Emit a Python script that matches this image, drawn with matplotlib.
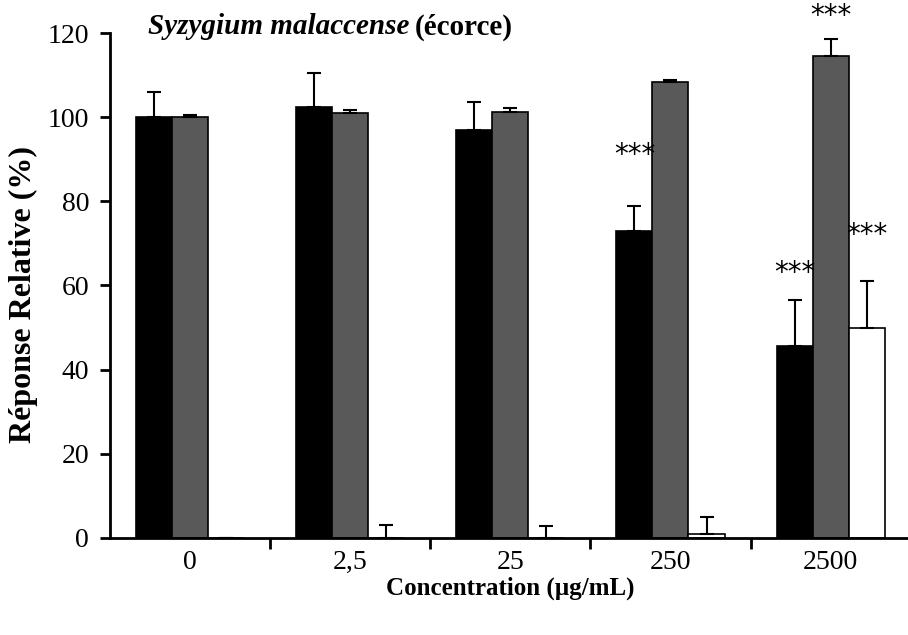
import numpy as np
import matplotlib
matplotlib.use('Agg')
import matplotlib.pyplot as plt
from matplotlib.ticker import FixedLocator, NullFormatter

plt.rcParams['font.family'] = 'Liberation Serif'

# Données
concentrations = ['0', '2,5', '25', '250', '2500']
noir = [100, 102.5, 97, 73, 45.5]
noir_err = [6, 8, 6.5, 6, 11]
gris = [100, 101, 101.3, 108.3, 114.5]
gris_err = [0.5, 0.7, 0.8, 0.5, 4]
blanc = [0, 0, 0, 1, 50]
blanc_err = [0, 3, 2.7, 4, 11]
# étoiles: (index groupe, série, position y)
etoiles = [(3, 0, 91), (4, 0, 63), (4, 1, 124), (4, 2, 72)]

fig = plt.figure(figsize=(9.08, 6.35), dpi=100)
ax = fig.add_axes([0.121, 0.153, 0.882, 0.795])

x = np.arange(len(concentrations))
w = 0.225
series = [(noir, noir_err, '#000000'), (gris, gris_err, '#595959'), (blanc, blanc_err, '#ffffff')]
for k, (vals, errs, col) in enumerate(series):
    pos = x + (k - 1) * w
    ax.bar(pos, vals, w, color=col, edgecolor='black', linewidth=1.2, zorder=2)
    e = np.array(errs)
    ax.errorbar(pos, vals, yerr=[np.zeros_like(e), e], fmt='none', ecolor='black',
                elinewidth=1.5, capsize=5, capthick=1.5, zorder=3)

for gi, si, yv in etoiles:
    ax.text(x[gi] + (si - 1) * w, yv, '***', ha='center', va='center',
            fontsize=20, family='DejaVu Sans')

ax.set_xlim(-0.5, 4.5)
ax.set_ylim(0, 120)
ax.set_yticks(np.arange(0, 121, 20))
ax.set_xticks(x)
ax.set_xticklabels(concentrations)
ax.tick_params(axis='x', which='major', length=0, labelsize=20, pad=9)
ax.xaxis.set_minor_locator(FixedLocator([0.5, 1.5, 2.5, 3.5]))
ax.xaxis.set_minor_formatter(NullFormatter())
ax.tick_params(axis='x', which='minor', length=8, width=2, direction='out')
ax.tick_params(axis='y', length=7, width=2, labelsize=20, pad=8)

ax.spines['top'].set_visible(False)
ax.spines['right'].set_visible(False)
ax.spines['left'].set_linewidth(2)
ax.spines['bottom'].set_linewidth(2)

ax.set_xlabel('Concentration (µg/mL)', fontsize=18, fontweight='bold', labelpad=1)
ax.set_ylabel('Réponse Relative (%)', fontsize=23, fontweight='bold')
ax.yaxis.set_label_coords(-0.09, 0.483)

t1 = ax.text(0.047, 1.012, 'Syzygium malaccense', transform=ax.transAxes, fontsize=21,
             fontweight='bold', style='italic', va='center', ha='left')
ax.annotate('(écorce)', xy=(1, 0.5), xycoords=t1, xytext=(4, 0),
            textcoords='offset points', fontsize=21, fontweight='bold',
            va='center', ha='left')

fig.savefig('out.png', dpi=100)
